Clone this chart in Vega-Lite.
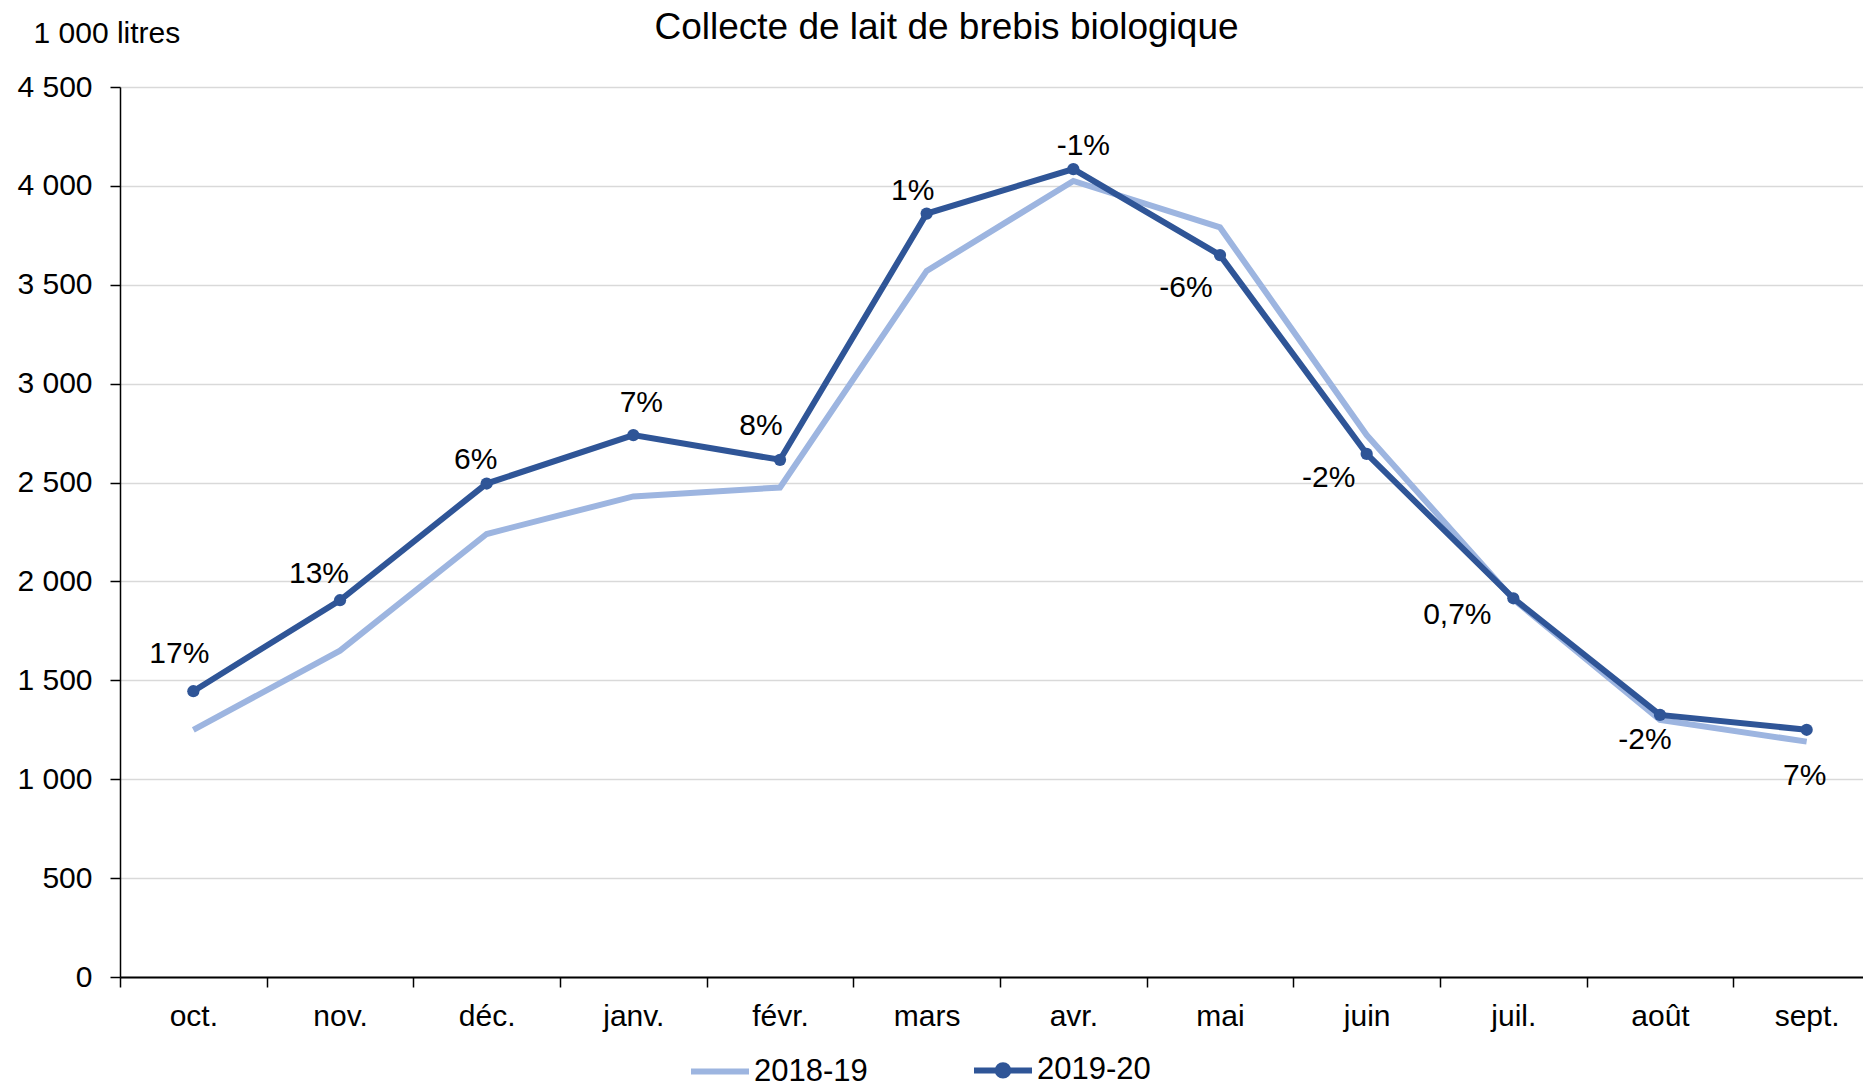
{
  "$schema": "https://vega.github.io/schema/vega-lite/v6.json",
  "autosize": {"type": "none"},
  "padding": {"left": 120, "top": 87, "right": 0, "bottom": 106},
  "width": 1743,
  "height": 890,
  "background": "#ffffff",
  "title": {"text": "Collecte de lait de brebis biologique", "fontSize": 37, "font": "Liberation Sans", "fontWeight": "normal", "color": "#000000", "anchor": "middle", "frame": "group", "dx": -45, "baseline": "middle", "offset": -47},
  "data": {"values": [
    {"month": "oct.", "series": "2018-19", "value": 1250},
    {"month": "nov.", "series": "2018-19", "value": 1650},
    {"month": "déc.", "series": "2018-19", "value": 2240},
    {"month": "janv.", "series": "2018-19", "value": 2430},
    {"month": "févr.", "series": "2018-19", "value": 2475},
    {"month": "mars", "series": "2018-19", "value": 3570},
    {"month": "avr.", "series": "2018-19", "value": 4025},
    {"month": "mai", "series": "2018-19", "value": 3790},
    {"month": "juin", "series": "2018-19", "value": 2740},
    {"month": "juil.", "series": "2018-19", "value": 1910},
    {"month": "août", "series": "2018-19", "value": 1300},
    {"month": "sept.", "series": "2018-19", "value": 1190},
    {"month": "oct.", "series": "2019-20", "value": 1445, "label": "17%"},
    {"month": "nov.", "series": "2019-20", "value": 1905, "label": "13%"},
    {"month": "déc.", "series": "2019-20", "value": 2495, "label": "6%"},
    {"month": "janv.", "series": "2019-20", "value": 2740, "label": "7%"},
    {"month": "févr.", "series": "2019-20", "value": 2615, "label": "8%"},
    {"month": "mars", "series": "2019-20", "value": 3860, "label": "1%"},
    {"month": "avr.", "series": "2019-20", "value": 4085, "label": "-1%"},
    {"month": "mai", "series": "2019-20", "value": 3650, "label": "-6%"},
    {"month": "juin", "series": "2019-20", "value": 2645, "label": "-2%"},
    {"month": "juil.", "series": "2019-20", "value": 1915, "label": "0,7%"},
    {"month": "août", "series": "2019-20", "value": 1325, "label": "-2%"},
    {"month": "sept.", "series": "2019-20", "value": 1250, "label": "7%"}
  ]},
  "encoding": {
    "x": {"field": "month", "type": "nominal", "bandPosition": 0.5,
      "sort": ["oct.", "nov.", "déc.", "janv.", "févr.", "mars", "avr.", "mai", "juin", "juil.", "août", "sept."],
      "scale": {"type": "band", "paddingInner": 0, "paddingOuter": 0, "range": [0, 1760]},
      "axis": {"title": null, "tickBand": "extent", "grid": false, "labelAngle": 0, "domainColor": "#000000", "domainWidth": 2, "tickColor": "#000000", "tickSize": 10, "tickWidth": 1.5, "labelPadding": 14}},
    "y": {"field": "value", "type": "quantitative",
      "scale": {"domain": [0, 4500], "nice": false},
      "axis": {"title": "1 000 litres", "titleAngle": 0, "titleX": -87, "titleY": -54, "titleAlign": "left", "titleBaseline": "middle", "titleFontWeight": "normal", "titleFontSize": 30, "titleFont": "Liberation Sans", "titleColor": "#000000",
        "values": [0, 500, 1000, 1500, 2000, 2500, 3000, 3500, 4000, 4500],
        "labelExpr": "replace(format(datum.value, ','), ',', ' ')",
        "gridColor": "#d9d9d9", "gridWidth": 1.5, "domainColor": "#000000", "domainWidth": 1.5, "tickColor": "#000000", "tickSize": 10, "tickWidth": 1.5, "labelPadding": 18}}
  },
  "layer": [
    {"mark": {"type": "line", "strokeWidth": 6},
      "encoding": {"color": {"field": "series", "type": "nominal",
        "scale": {"domain": ["2018-19", "2019-20"], "range": ["#9db5e0", "#2f5597"]},
        "legend": {"orient": "none", "legendX": 568, "legendY": 951, "direction": "horizontal", "title": null,
          "symbolType": "stroke", "symbolSize": 3364, "symbolStrokeWidth": 6, "labelFontSize": 31, "labelFont": "Liberation Sans", "labelColor": "#000000", "labelOffset": 2, "columnPadding": 94,
          "encode": {"symbols": {"update": {
            "shape": {"signal": "datum.value === '2019-20' ? 'M-1,0L1,0M0.18,0A0.18,0.18,0,1,1,-0.18,0A0.18,0.18,0,1,1,0.18,0Z' : 'stroke'"},
            "fill": {"signal": "datum.value === '2019-20' ? '#2f5597' : 'transparent'"}}}}}}}},
    {"transform": [{"filter": "datum.series === '2019-20'"}],
      "mark": {"type": "point", "filled": true, "size": 150, "color": "#2f5597", "opacity": 1}},
    {"transform": [{"filter": "datum.series === '2019-20' && datum.month === 'oct.'"}], "mark": {"type": "text", "dx": -14, "dy": -37}, "encoding": {"text": {"field": "label"}}},
    {"transform": [{"filter": "datum.series === '2019-20' && datum.month === 'nov.'"}], "mark": {"type": "text", "dx": -21, "dy": -26}, "encoding": {"text": {"field": "label"}}},
    {"transform": [{"filter": "datum.series === '2019-20' && datum.month === 'déc.'"}], "mark": {"type": "text", "dx": -11, "dy": -24}, "encoding": {"text": {"field": "label"}}},
    {"transform": [{"filter": "datum.series === '2019-20' && datum.month === 'janv.'"}], "mark": {"type": "text", "dx": 8, "dy": -32}, "encoding": {"text": {"field": "label"}}},
    {"transform": [{"filter": "datum.series === '2019-20' && datum.month === 'févr.'"}], "mark": {"type": "text", "dx": -19, "dy": -34}, "encoding": {"text": {"field": "label"}}},
    {"transform": [{"filter": "datum.series === '2019-20' && datum.month === 'mars'"}], "mark": {"type": "text", "dx": -14, "dy": -23}, "encoding": {"text": {"field": "label"}}},
    {"transform": [{"filter": "datum.series === '2019-20' && datum.month === 'avr.'"}], "mark": {"type": "text", "dx": 10, "dy": -23}, "encoding": {"text": {"field": "label"}}},
    {"transform": [{"filter": "datum.series === '2019-20' && datum.month === 'mai'"}], "mark": {"type": "text", "dx": -34, "dy": 33}, "encoding": {"text": {"field": "label"}}},
    {"transform": [{"filter": "datum.series === '2019-20' && datum.month === 'juin'"}], "mark": {"type": "text", "dx": -38, "dy": 24}, "encoding": {"text": {"field": "label"}}},
    {"transform": [{"filter": "datum.series === '2019-20' && datum.month === 'juil.'"}], "mark": {"type": "text", "dx": -56, "dy": 17}, "encoding": {"text": {"field": "label"}}},
    {"transform": [{"filter": "datum.series === '2019-20' && datum.month === 'août'"}], "mark": {"type": "text", "dx": -15, "dy": 25}, "encoding": {"text": {"field": "label"}}},
    {"transform": [{"filter": "datum.series === '2019-20' && datum.month === 'sept.'"}], "mark": {"type": "text", "dx": -2, "dy": 46}, "encoding": {"text": {"field": "label"}}}
  ],
  "config": {
    "view": {"stroke": null},
    "axis": {"labelFont": "Liberation Sans", "labelFontSize": 30, "labelColor": "#000000"},
    "text": {"font": "Liberation Sans", "fontSize": 30, "fill": "#000000", "align": "center", "baseline": "middle"}
  }
}
